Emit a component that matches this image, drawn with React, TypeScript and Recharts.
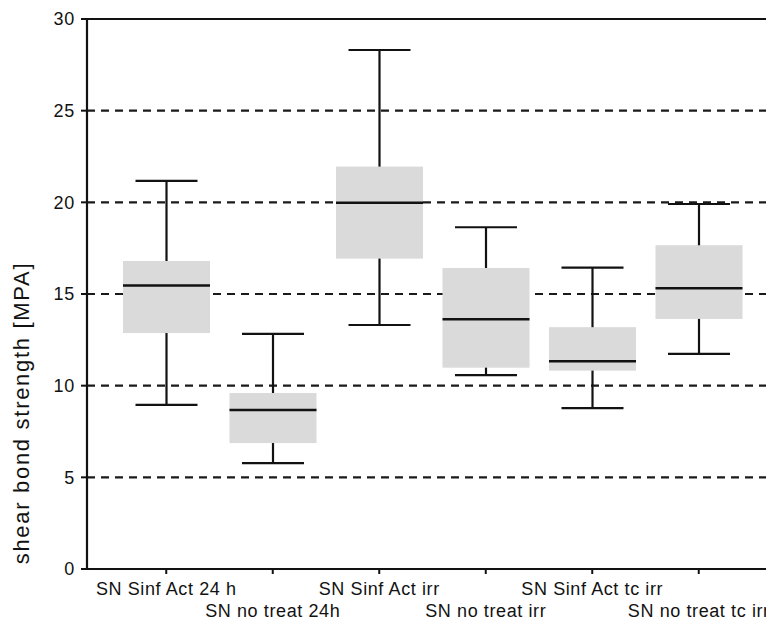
import React from 'react';
import { ComposedChart, Bar, XAxis, YAxis, CartesianGrid, ReferenceLine } from 'recharts';

const categories = [
  'SN Sinf Act 24 h',
  'SN no treat 24h',
  'SN Sinf Act irr',
  'SN no treat irr',
  'SN Sinf Act tc irr',
  'SN no treat tc irr',
];
const whiskerLow = [8.95, 5.78, 13.31, 10.57, 8.77, 11.73];
const q1 = [12.87, 6.87, 16.93, 10.98, 10.82, 13.64];
const median = [15.46, 8.67, 19.98, 13.62, 11.33, 15.31];
const q3 = [16.8, 9.6, 21.95, 16.42, 13.19, 17.66];
const whiskerHigh = [21.17, 12.82, 28.31, 18.64, 16.44, 19.91];
const yTicks = [0, 5, 10, 15, 20, 25, 30];

const FONT = '"Liberation Sans", Arial, Helvetica, sans-serif';
const INK = '#121212';

const data = categories.map((name, i) => ({
  name,
  range: [whiskerLow[i], whiskerHigh[i]],
  lo: whiskerLow[i],
  hi: whiskerHigh[i],
  q1: q1[i],
  med: median[i],
  q3: q3[i],
}));

// the bar spans min..max; box parts are placed with the same px-per-unit
const BoxShape = (props: any) => {
  const { x, y, width, height, payload } = props;
  if (height == null || !payload) return null;
  const k = height / (payload.hi - payload.lo);
  const py = (v: number) => y + (payload.hi - v) * k;
  const cx = x + width / 2;
  const capW = 62;
  return (
    <g>
      <line x1={cx} x2={cx} y1={py(payload.hi)} y2={py(payload.lo)} stroke={INK} strokeWidth={2.2} />
      <line x1={cx - capW / 2} x2={cx + capW / 2} y1={py(payload.hi)} y2={py(payload.hi)} stroke={INK} strokeWidth={2.2} />
      <line x1={cx - capW / 2} x2={cx + capW / 2} y1={py(payload.lo)} y2={py(payload.lo)} stroke={INK} strokeWidth={2.2} />
      <rect x={x} y={py(payload.q3)} width={width} height={py(payload.q1) - py(payload.q3)} fill="#dadada" />
      <line x1={x} x2={x + width} y1={py(payload.med)} y2={py(payload.med)} stroke={INK} strokeWidth={2.4} />
    </g>
  );
};

const XTick = (props: any) => {
  const { x, y, payload, index } = props;
  return (
    <text
      x={x}
      y={y}
      dy={index % 2 === 0 ? 19 : 41}
      textAnchor="middle"
      fontFamily={FONT}
      fontSize={18}
      letterSpacing={0.6}
      fill={INK}
    >
      {payload.value}
    </text>
  );
};

const YLabel = (props: any) => {
  const vb = props.viewBox;
  const lx = vb.x + 21;
  const ly = vb.y + vb.height / 2 + 119;
  return (
    <text
      x={lx}
      y={ly}
      transform={`rotate(-90, ${lx}, ${ly})`}
      textAnchor="middle"
      dominantBaseline="central"
      fontFamily={FONT}
      fontSize={22}
      letterSpacing={1.7}
      fill={INK}
    >
      shear bond strength [MPA]
    </text>
  );
};

export default function App() {
  return (
    <div style={{ position: 'fixed', left: 0, top: 0, width: 766, height: 627, overflow: 'hidden', background: '#fff' }}>
      <ComposedChart width={800} height={627} data={data} margin={{ top: 19, right: 24, left: 0, bottom: 0 }}>
        <CartesianGrid vertical={false} stroke="#1a1a1a" strokeWidth={2.2} strokeDasharray="8 6" />
        <Bar dataKey="range" barSize={87} shape={<BoxShape />} isAnimationActive={false} />
        <ReferenceLine y={30} stroke={INK} strokeWidth={2.2} />
        <XAxis
          dataKey="name"
          type="category"
          interval={0}
          height={58}
          padding={{ left: 26, right: 24 }}
          tickSize={5}
          tickLine={{ stroke: INK, strokeWidth: 2 }}
          axisLine={{ stroke: INK, strokeWidth: 2.2 }}
          tick={<XTick />}
        />
        <YAxis
          width={87}
          domain={[0, 30]}
          ticks={yTicks}
          interval={0}
          tickSize={6}
          tickMargin={6}
          tickLine={{ stroke: INK, strokeWidth: 2 }}
          axisLine={{ stroke: INK, strokeWidth: 2.2 }}
          tick={{ fontSize: 18, fontFamily: FONT, fill: INK, letterSpacing: 0.8 }}
          label={<YLabel />}
        />
      </ComposedChart>
    </div>
  );
}
